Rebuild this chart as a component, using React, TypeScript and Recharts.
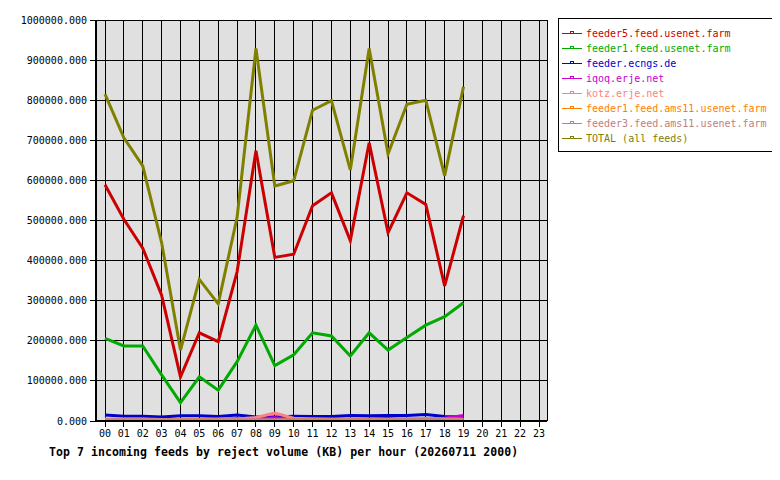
import React from 'react';
import { LineChart, Line, XAxis, YAxis, CartesianGrid } from 'recharts';

const hours = ['00','01','02','03','04','05','06','07','08','09','10','11','12','13','14','15','16','17','18','19','20','21','22','23'];

// values in KB, hours 00..19
const feeder5 = [589000, 503000, 431000, 314000, 110000, 220000, 198000, 372000, 674000, 408000, 416000, 537000, 569000, 450000, 694000, 470000, 569000, 540000, 337000, 512000];
const feeder1 = [206000, 187000, 187000, 115000, 46000, 110000, 77000, 148000, 239000, 138000, 165000, 220000, 212000, 162000, 220000, 177000, 208000, 239000, 260000, 295000];
const ecngs = [15000, 12000, 12000, 10000, 13000, 13000, 11000, 15000, 10000, 10000, 12000, 11000, 11000, 14000, 13000, 14000, 14000, 16000, 11000, 10000];
const iqoq = [4000, 3000, 3000, 3000, 3000, 3000, 4000, 6000, 5000, 8000, 4000, 6000, 6000, 4000, 5000, 6000, 4000, 4000, 7000, 14000];
const kotz = [5000, 5000, 5000, 4000, 4000, 4000, 5000, 5000, 9000, 20000, 7000, 5000, 4000, 5000, 4000, 4000, 5000, 6000, 5000, 5000];
const ams1 = [1000, 1000, 1000, 1000, 4000, 4000, 1000, 1000, 1000, 1000, 4000, 4000, 3000, 2000, 3000, 2000, 2000, 1000, 1000, 2000];
const ams3 = [3000, 3000, 3000, 3000, 3000, 3000, 3000, 3000, 3000, 3000, 3000, 3000, 3000, 3000, 3000, 3000, 5000, 5000, 3000, 3000];
const total = [815000, 706000, 636000, 445000, 177000, 353000, 292000, 508000, 929000, 586000, 599000, 775000, 799000, 626000, 929000, 666000, 790000, 800000, 612000, 834000];

const yTicks = [0, 100000, 200000, 300000, 400000, 500000, 600000, 700000, 800000, 900000, 1000000];

const series = [
  { key: 'feeder5', name: 'feeder5.feed.usenet.farm', color: '#cc0000', values: feeder5 },
  { key: 'feeder1', name: 'feeder1.feed.usenet.farm', color: '#00aa00', values: feeder1 },
  { key: 'ecngs', name: 'feeder.ecngs.de', color: '#0000cc', values: ecngs },
  { key: 'iqoq', name: 'iqoq.erje.net', color: '#cc00cc', values: iqoq },
  { key: 'kotz', name: 'kotz.erje.net', color: '#ff8080', values: kotz },
  { key: 'ams1', name: 'feeder1.feed.ams11.usenet.farm', color: '#ff8000', values: ams1 },
  { key: 'ams3', name: 'feeder3.feed.ams11.usenet.farm', color: '#c08080', values: ams3 },
  { key: 'total', name: 'TOTAL (all feeds)', color: '#808000', values: total },
];

const data = hours.map((h, i) => {
  const row: any = { hour: h };
  series.forEach((s) => {
    if (i < s.values.length) row[s.key] = s.values[i];
  });
  return row;
});

const mono = '"DejaVu Sans Mono", "Liberation Mono", monospace';
const tickStyle = { fontSize: 10, fontFamily: mono, fill: '#000' };

export default function App() {
  return (
    <div style={{ position: 'relative', width: 772, height: 472 }}>
      <style>{'.recharts-cartesian-grid line, .recharts-cartesian-axis line { shape-rendering: crispEdges; }'}</style>
      <LineChart width={772} height={472} data={data} margin={{ top: 12, right: 233, bottom: 29, left: 8 }}>
        <CartesianGrid fill="#e0e0e0" stroke="#000" strokeWidth={1} />
        <XAxis
          dataKey="hour"
          scale="point"
          padding={{ left: 9, right: 8 }}
          interval={0}
          height={30}
          tick={tickStyle}
          tickSize={6}
          tickMargin={3}
          tickLine={{ stroke: '#000' }}
          axisLine={{ stroke: '#000', strokeWidth: 2 }}
        />
        <XAxis
          xAxisId="top"
          orientation="top"
          dataKey="hour"
          scale="point"
          padding={{ left: 9, right: 8 }}
          height={0}
          tick={false}
          tickLine={false}
          axisLine={{ stroke: '#000', strokeWidth: 1 }}
        />
        <YAxis
          domain={[0, 1000000]}
          ticks={yTicks}
          interval={0}
          width={80}
          tick={tickStyle}
          tickSize={6}
          tickMargin={3}
          tickFormatter={(v: number) => v.toFixed(3)}
          tickLine={{ stroke: '#000' }}
          axisLine={{ stroke: '#000', strokeWidth: 2 }}
        />
        <YAxis
          yAxisId="r"
          orientation="right"
          domain={[0, 1000000]}
          width={0}
          tick={false}
          tickLine={false}
          axisLine={{ stroke: '#000', strokeWidth: 1 }}
        />
        {series.map((s) => (
          <Line
            key={s.key}
            dataKey={s.key}
            name={s.name}
            type="linear"
            stroke={s.color}
            strokeWidth={3}
            dot={false}
            activeDot={false}
            isAnimationActive={false}
            connectNulls={false}
          />
        ))}
      </LineChart>
      <div
        style={{
          position: 'absolute',
          left: 550,
          top: 10,
          width: 214,
          height: 132,
          border: '1px solid #000',
          background: '#fff',
        }}
      >
        {series.map((s, i) => (
          <div
            key={s.key}
            style={{
              position: 'absolute',
              left: 3,
              top: 7 + i * 15,
              height: 14,
              display: 'flex',
              alignItems: 'center',
              whiteSpace: 'nowrap',
            }}
          >
            <svg width={22} height={14} style={{ display: 'block' }}>
              <line x1={0} y1={7.5} x2={20} y2={7.5} stroke={s.color} strokeWidth={1} />
              <rect x={8.5} y={5.5} width={3} height={2} fill="none" stroke={s.color} strokeWidth={1} />
            </svg>
            <span style={{ fontFamily: mono, fontSize: 10, color: s.color, marginLeft: 2 }}>{s.name}</span>
          </div>
        ))}
      </div>
      <div
        style={{
          position: 'absolute',
          left: 41,
          top: 437,
          fontFamily: mono,
          fontSize: 11.5,
          fontWeight: 'bold',
          letterSpacing: '0.08px',
          lineHeight: '14px',
          whiteSpace: 'nowrap',
          color: '#000',
        }}
      >
        Top 7 incoming feeds by reject volume (KB) per hour (20260711 2000)
      </div>
    </div>
  );
}
